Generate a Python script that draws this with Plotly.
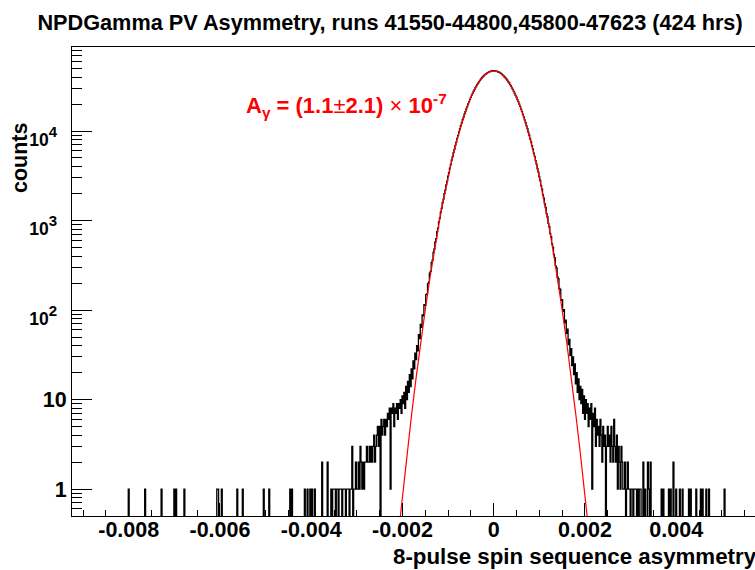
import plotly.graph_objects as go

# ---------------- text ----------------
title_text = "NPDGamma PV Asymmetry, runs 41550-44800,45800-47623 (424 hrs)"
x_title = "8-pulse spin sequence asymmetry"
y_title = "counts"
fit_label = ("A<sub>γ</sub> = (1.1<span style='font-weight:normal'>±</span>2.1) "
             "<span style='font-weight:normal'>×</span> 10<sup>-7</sup>")

# ---------------- histogram data ----------------
bin_width = 0.00002
hist_x_min = -0.00926
hist_x_max = 0.00574

# contiguous core bins, starting at core_x_start (bin centres)
core_x_start = -0.0025
core_counts = [
    5, 0, 6, 4, 5, 6, 4, 6, 5, 7, 6, 8, 1, 8, 7, 9, 5, 8, 7, 9,
    6, 9, 8, 10, 7, 11, 9, 12, 8, 14, 10, 16, 12, 19, 14, 22, 17, 27, 22, 33,
    28, 40, 35, 53, 48, 69, 64, 88, 86, 115, 113, 149, 152, 197, 205, 259, 271, 338, 362, 440,
    481, 578, 628, 751, 821, 968, 1062, 1245, 1365, 1580, 1738, 2000, 2195, 2510, 2755, 3130, 3420, 3860, 4220, 4730,
    5160, 5740, 6250, 6920, 7510, 8270, 8940, 9800, 10550, 11510, 12350, 13400, 14330, 15460, 16480, 17700, 18780, 20090, 21220, 22590,
    23770, 25190, 26400, 27850, 29070, 30510, 31720, 33150, 34310, 35700, 36790, 38110, 39120, 40350, 41220, 42330, 43060, 43880, 44750, 45240,
    45930, 46250, 46730, 46870, 47180,
    47210,
    46950, 47080, 46590, 46480, 45700, 45390, 44560, 44010, 43250, 42120, 41340, 40180, 39290, 37960, 36930, 35540, 34460, 33010, 31850, 30390,
    29180, 27720, 26530, 25060, 23880, 22490, 21330, 19970, 18880, 17610, 16570, 15380, 14410, 13320, 12430, 11420, 10630, 9720, 9010, 8190,
    7580, 6850, 6320, 5680, 5220, 4660, 4280, 3790, 3480, 3070, 2810, 2450, 2245, 1950, 1785, 1540, 1402, 1198, 1096, 931,
    852, 716, 661, 549, 505, 418, 386, 312, 296, 234, 225, 174, 170, 128, 131, 97, 101, 72, 77, 55,
    61, 41, 47, 31, 37, 24, 30, 19, 25, 15, 20, 12, 17, 10, 14, 9, 13, 7, 11, 6,
    10, 7, 9, 5, 8, 6, 9, 1, 7, 5, 8, 3, 6, 4, 5, 3, 6, 4, 2, 5,
    3, 4, 0, 3, 5,
]

# sparse tail bins (bin centre, counts)
tail_x = [
    -0.00252, -0.00254, -0.00256, -0.00258, -0.00260, -0.00262, -0.00264, -0.00266, -0.00268, -0.00270,
    -0.00272, -0.00274, -0.00276, -0.00278, -0.00280, -0.00282, -0.00284, -0.00286, -0.00288, -0.00290,
    -0.00292, -0.00294, -0.00296, -0.00298, -0.00300, -0.00302, -0.00304, -0.00306, -0.00310, -0.00312,
    -0.00314, -0.00318, -0.00320, -0.00322, -0.00326, -0.00328, -0.00330, -0.00334, -0.00336, -0.00338,
    -0.00342, -0.00344, -0.00348, -0.00350, -0.00352, -0.00356, -0.00364, -0.00376, -0.00392, -0.00398,
    -0.00402, -0.00408, -0.00414, -0.00442, -0.00446, -0.00492, -0.00504, -0.00550, -0.00562, -0.00596,
    -0.00604, -0.00606, -0.00678, -0.00696, -0.00700, -0.00728, -0.00764, -0.00800,
    0.00252, 0.00254, 0.00256, 0.00258, 0.00260, 0.00262, 0.00264, 0.00266, 0.00268, 0.00270,
    0.00272, 0.00274, 0.00276, 0.00278, 0.00280, 0.00282, 0.00284, 0.00286, 0.00288, 0.00292,
    0.00294, 0.00296, 0.00298, 0.00302, 0.00304, 0.00308, 0.00310, 0.00312, 0.00316, 0.00320,
    0.00322, 0.00328, 0.00332, 0.00338, 0.00340, 0.00344, 0.00368, 0.00372, 0.00384, 0.00388,
    0.00394, 0.00400, 0.00408, 0.00414, 0.00428, 0.00432, 0.00444, 0.00454, 0.00458, 0.00466,
    0.00472, 0.00506,
]
tail_counts = [
    3, 5, 4, 3, 2, 4, 3, 2, 3, 2,
    3, 2, 2, 3, 2, 2, 1, 2, 1, 2,
    3, 1, 2, 1, 1, 2, 1, 1, 3, 1,
    1, 1, 1, 1, 1, 1, 1, 1, 1, 1,
    1, 1, 1, 1, 1, 1, 2, 2, 1, 1,
    1, 1, 1, 1, 1, 1, 1, 1, 1, 1,
    1, 1, 1, 1, 1, 1, 1, 1,
    3, 4, 2, 5, 3, 2, 6, 3, 2, 4,
    1, 3, 2, 1, 3, 2, 1, 1, 2, 1,
    2, 1, 1, 1, 1, 1, 1, 1, 1, 1,
    1, 2, 1, 2, 1, 2, 1, 1, 1, 1,
    2, 1, 1, 1, 1, 1, 1, 1, 1, 1,
    1, 1,
]

# Gaussian fit curve
fit_x = [-0.0021, -0.0020, -0.0019, -0.0018, -0.0017, -0.0016, -0.0015, -0.0014, -0.0013, -0.0012,
         -0.0011, -0.0010, -0.0009, -0.0008, -0.0007, -0.0006, -0.0005, -0.0004, -0.0003, -0.0002,
         -0.0001, 0.0, 0.0001, 0.0002, 0.0003, 0.0004, 0.0005, 0.0006, 0.0007, 0.0008,
         0.0009, 0.0010, 0.0011, 0.0012, 0.0013, 0.0014, 0.0015, 0.0016, 0.0017, 0.0018,
         0.0019, 0.0020, 0.0021]
fit_counts = [0.28, 0.855, 2.48, 6.78, 17.7, 43.5, 101, 224, 468, 925,
              1733, 3075, 5162, 8210, 12364, 17634, 23805, 30437, 36840, 42230,
              45833, 47100, 45833, 42230, 36840, 30437, 23805, 17634, 12364, 8210,
              5162, 3075, 1733, 925, 468, 224, 101, 43.5, 17.7, 6.78,
              2.48, 0.855, 0.28]

# ---------------- ticks ----------------
x_tick_vals = [-0.008, -0.006, -0.004, -0.002, 0.0, 0.002, 0.004]
x_tick_text = ["-0.008", "-0.006", "-0.004", "-0.002", "0", "0.002", "0.004"]
y_plain_vals = [1, 10]
y_plain_text = ["1", "10"]
y_power_vals = [100, 1000, 10000]
y_power_text = ["<span style='font-size:17.5px'>10</span><sup>2</sup>",
                "<span style='font-size:17.5px'>10</span><sup>3</sup>",
                "<span style='font-size:17.5px'>10</span><sup>4</sup>"]
y_major_vals = [0.1, 1, 10, 100, 1000, 10000]
y_minor_vals = [m * 10.0 ** d for d in range(-1, 5) for m in range(2, 10)]

# ---------------- build histogram outline ----------------
k_min = round(hist_x_min / bin_width)
k_max = round(hist_x_max / bin_width)
counts = {k: 0 for k in range(k_min, k_max + 1)}
k0 = round(core_x_start / bin_width)
for i, c in enumerate(core_counts):
    counts[k0 + i] = c
for xv, c in zip(tail_x, tail_counts):
    counts[round(xv / bin_width)] = c
ks = sorted(counts)
edges = [(k - 0.5) * bin_width for k in ks] + [(ks[-1] + 0.5) * bin_width]
floor_val = 1e-3  # empty bins drop below the axis
ys = [counts[k] if counts[k] > 0 else floor_val for k in ks]
ys.append(ys[-1])

FONT = "Liberation Sans, Arial, Helvetica, sans-serif"
Y_RANGE = [-0.301, 4.939]

fig = go.Figure()
fig.add_trace(go.Scatter(x=edges, y=ys, mode="lines",
                         line=dict(color="black", width=1.3, shape="hv", simplify=False),
                         hoverinfo="skip", showlegend=False))
fig.add_trace(go.Scatter(x=fit_x, y=fit_counts, mode="lines", yaxis="y2",
                         line=dict(color="#ff0000", width=1.2),
                         hoverinfo="skip", showlegend=False))

fig.update_layout(
    width=755, height=570,
    margin=dict(l=72, r=0, t=47, b=54),
    plot_bgcolor="white", paper_bgcolor="white",
    showlegend=False,
    font=dict(family=FONT, color="black"),
    title=dict(text=title_text, x=0.5166, xanchor="center", y=1 - 22 / 570, yanchor="middle",
               yref="container", font=dict(family=FONT, size=21.7, weight="bold", color="black")),
    xaxis=dict(
        range=[-0.009243, 0.005727],
        tickmode="array", tickvals=x_tick_vals, ticktext=x_tick_text,
        ticks="inside", ticklen=13, tickwidth=1, tickcolor="black",
        showline=True, linecolor="black", linewidth=1, mirror=True,
        showgrid=False, zeroline=False, ticklabelstandoff=-6,
        tickfont=dict(family=FONT, size=21.5, weight="bold", color="black"),
        minor=dict(ticks="inside", ticklen=6.5, dtick=0.0005, tick0=0,
                   tickcolor="black", tickwidth=1, showgrid=False),
    ),
    yaxis=dict(
        type="log", range=Y_RANGE,
        tickmode="array", tickvals=y_plain_vals, ticktext=y_plain_text,
        ticks="", showline=True, linecolor="black", linewidth=1, mirror=False,
        showgrid=False, zeroline=False,
        tickfont=dict(family=FONT, size=21.5, weight="bold", color="black"),
    ),
    yaxis2=dict(
        type="log", range=Y_RANGE, overlaying="y", side="left", anchor="x",
        tickmode="array", tickvals=y_power_vals, ticktext=y_power_text,
        ticks="", showline=False, showgrid=False, zeroline=False,
        ticklabelshift=7, ticklabelstandoff=14,
        tickfont=dict(family=FONT, size=21.5, weight="bold", color="black"),
    ),
    yaxis3=dict(
        type="log", range=Y_RANGE, overlaying="y", side="left", anchor="x",
        tickmode="array", tickvals=y_major_vals, showticklabels=False,
        ticks="inside", ticklen=20, tickwidth=1, tickcolor="black",
        showline=False, showgrid=False, zeroline=False,
        minor=dict(ticks="inside", ticklen=10, tickmode="array", tickvals=y_minor_vals,
                   tickcolor="black", tickwidth=1, showgrid=False),
    ),
)
# empty helper trace so the tick-only axis is drawn
fig.add_trace(go.Scatter(x=[], y=[], yaxis="y3", mode="lines", hoverinfo="skip", showlegend=False))

fig.add_annotation(text=fit_label, xref="paper", yref="paper", x=0.4026, y=0.8763,
                   xanchor="center", yanchor="middle", showarrow=False,
                   font=dict(family=FONT, size=22, weight="bold", color="#ff0000"))
fig.add_annotation(text=y_title, xref="paper", yref="paper", x=-0.0761, y=0.7633,
                   xanchor="center", yanchor="middle", textangle=-90, showarrow=False,
                   font=dict(family=FONT, size=21.5, weight="bold", color="black"))
fig.add_annotation(text=x_title, xref="paper", yref="paper", x=0.4670, y=-0.0853,
                   xanchor="left", yanchor="middle", showarrow=False,
                   font=dict(family=FONT, size=22.3, weight="bold", color="black"))

fig.write_html("out.html", config={"displayModeBar": False},
               post_script="document.body.style.margin='0';document.body.style.overflow='hidden';")
